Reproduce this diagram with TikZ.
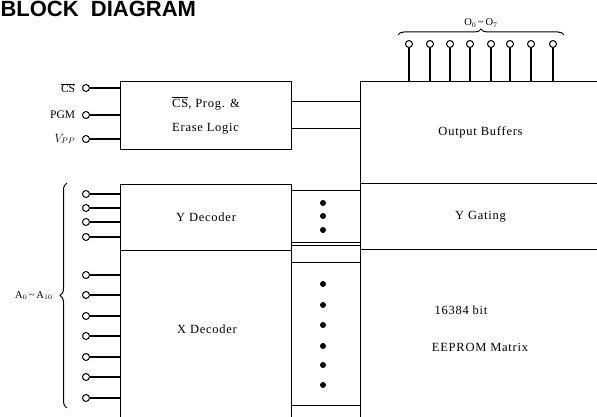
\documentclass[tikz,border=0pt]{standalone}
\usepackage{fontspec}
\setmainfont{Liberation Serif}
\newfontfamily\titlefont{Liberation Sans}
\newfontfamily\wide[LetterSpace=6]{Liberation Serif}
\usetikzlibrary{positioning, decorations.pathreplacing, calc}

\begin{document}
\begin{tikzpicture}[x=1pt, y=-1pt, line width=1.1pt,
  blk/.style={draw, rectangle, anchor=north west, inner sep=0pt},
  pin/.style={circle, draw, fill=white, inner sep=0pt, minimum size=7pt, line width=1pt},
  lbl/.style={font=\wide\fontsize{12.5}{14}\selectfont},
  sig/.style={font=\fontsize{11.5}{13}\selectfont},
  bus/.style={font=\fontsize{10.5}{12}\selectfont, inner sep=1pt},
  dot/.style={circle, fill, inner sep=0pt, minimum size=6pt}]

\useasboundingbox (0,0) rectangle (597,417);
\clip (0,0) rectangle (597,417);

% Title
\node[anchor=north west, inner sep=0pt, font=\titlefont\bfseries\fontsize{22}{26}\selectfont] (title) at (0,1) {BLOCK\ \ DIAGRAM};

% Blocks
\node[blk, minimum width=171pt, minimum height=68pt, align=left, lbl] (logic) at (120,81)
  {$\overline{\mbox{CS}}$, Prog. \&\\[10pt] Erase Logic};
\node[blk, minimum width=171pt, minimum height=66pt, lbl] (ydec) at (120,184) {Y Decoder};
\node[blk, minimum width=171pt, minimum height=200pt] (xdec) at (120,250) {};
\node[lbl] (xdectext) at (207,329) {X Decoder};

\node[blk, minimum width=69pt, minimum height=52pt] (mida) at (291,190) {};
\node[blk, minimum width=69pt, minimum height=17pt] (midb) at (291,245) {};
\node[blk, minimum width=69pt, minimum height=143pt] (midc) at (291,262) {};
\node[blk, minimum width=69pt, minimum height=50pt] (midd) at (291,405) {};

\node[blk, minimum width=240pt, minimum height=102pt, lbl] (outbuf) at (360,81) {Output Buffers};
\node[blk, minimum width=240pt, minimum height=66pt, lbl] (ygate) at (360,183) {Y Gating};
\node[blk, minimum width=240pt, minimum height=200pt] (matrix) at (360,249) {};
\node[lbl] (bits) at (461,310) {16384 bit};
\node[lbl] (eeprom) at (480,347) {EEPROM Matrix};

% Dots in the middle column
\foreach \y in {203,216,230}
  \node[dot] at (323,\y) {};
\foreach \y in {284,305,325,346,365,385}
  \node[dot] at (323,\y) {};

% Logic to output buffers
\draw ([yshift=14pt]logic.east) -- ([yshift=14pt]logic.east -| outbuf.west);
\draw ([yshift=-13pt]logic.east) -- ([yshift=-13pt]logic.east -| outbuf.west);

% Control pins
\node[pin] (cs) at (86,88) {};
\node[pin] (pgm) at (86,115) {};
\node[pin] (vpp) at (86,139) {};
\node[sig, left=3pt of cs] (cslbl) {$\overline{\mbox{CS}}$};
\node[sig, left=3pt of pgm] (pgmlbl) {PGM};
\node[sig, left=3pt of vpp] (vpplbl) {$V_{PP}$};
\foreach \p in {cs,pgm,vpp}
  \draw (\p.east) -- (\p -| logic.west);

% Address pins
\foreach \y [count=\i from 0] in {194,208,222,237}
{
  \node[pin] (a\i) at (86,\y) {};
  \draw (a\i.east) -- (a\i -| ydec.west);
}
\foreach \y [count=\i from 4] in {275,295,316,336,357,377,398}
{
  \node[pin] (a\i) at (86,\y) {};
  \draw (a\i.east) -- (a\i -| xdec.west);
}
\draw[decorate, decoration={brace, amplitude=7pt}, line width=1pt]
  ($(a10)+(-19,10)$) -- node[bus, left=13pt] (alabel) {A$_0$\,\textasciitilde\,A$_{10}$} ($(a0)+(-19,-11)$);

% Output pins
\foreach \x [count=\i from 0] in {409,430,450,470,491,510,531,553}
{
  \node[pin] (o\i) at (\x,44) {};
  \draw (o\i.south) -- (o\i |- outbuf.north);
}
\draw[decorate, decoration={brace, amplitude=6pt}, line width=1pt]
  ($(o0)+(-11,-9)$) -- node[bus, above=6pt] (olabel) {O$_0$\,\textasciitilde\,O$_7$} ($(o7)+(11,-9)$);

\end{tikzpicture}
\end{document}
